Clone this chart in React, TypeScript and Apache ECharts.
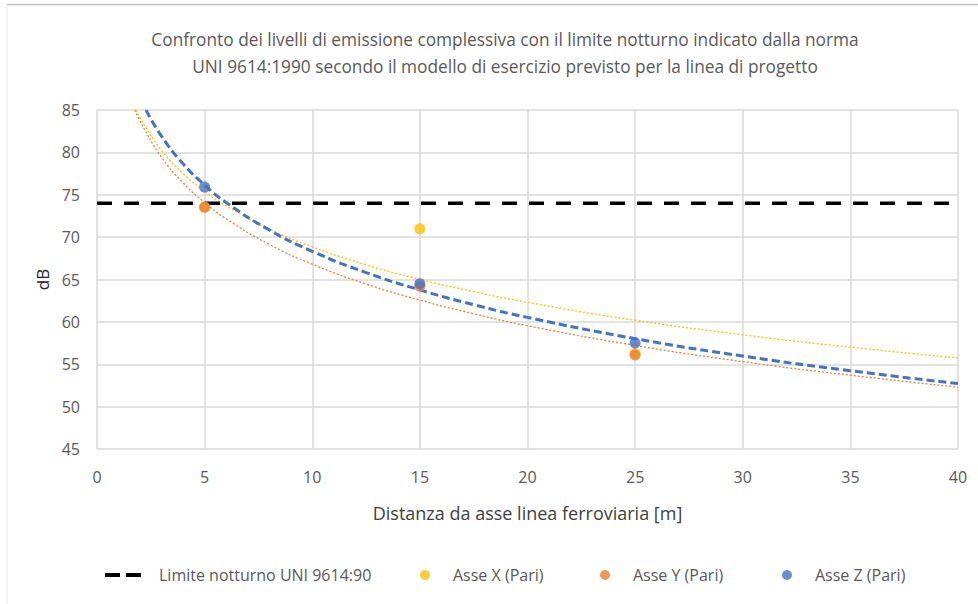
import React, { useEffect, useRef } from "react";
import * as echarts from "echarts";

const FONT = "'Open Sans', sans-serif";

// Measured points
const distances = [5, 15, 25];
const asseX = [73.5, 71.0, 56.3];
const asseY = [73.55, 64.2, 56.1];
const asseZ = [75.9, 64.5, 57.5];
const limiteNotturno = 74;

// Trendline samples
const trendXDist = [1.81, 2, 3, 4, 5, 6, 8, 10, 12.5, 15, 17.5, 20, 25, 30, 35, 40];
const trendXVal = [85.0, 84.06, 80.23, 77.51, 75.4, 73.68, 70.96, 68.85, 66.74, 65.02, 63.57, 62.3, 60.19, 58.47, 57.01, 55.75];
const trendYDist = [1.76, 2, 3, 4, 5, 6, 8, 10, 12.5, 15, 17.5, 20, 25, 30, 35, 40];
const trendYVal = [85.0, 83.66, 79.42, 76.41, 74.07, 72.16, 69.15, 66.81, 64.47, 62.57, 60.96, 59.55, 57.22, 55.31, 53.7, 52.3];
const trendZDist = [2.28, 3, 4, 5, 6, 8, 10, 12.5, 15, 17.5, 20, 25, 30, 35, 40];
const trendZVal = [84.98, 81.89, 78.65, 76.14, 74.08, 70.85, 68.33, 65.82, 63.77, 62.03, 60.53, 58.02, 55.97, 54.23, 52.72];

const xTicks = { min: 0, max: 40, interval: 5 };
const yTicks = { min: 45, max: 85, interval: 5 };

const names = {
  limite: "Limite notturno UNI 9614:90",
  x: "Asse X (Pari)",
  y: "Asse Y (Pari)",
  z: "Asse Z (Pari)",
};

const pairs = (xs: number[], ys: number[]) => xs.map((x, i) => [x, ys[i]]);

export default function App() {
  const ref = useRef<HTMLDivElement>(null);
  useEffect(() => {
    document.body.style.margin = "0";
    if (!ref.current) return;
    const chart = echarts.init(ref.current, null, { renderer: "svg" });
    const textColor = "#595959";
    const legendText = (pad: number) => ({ fontFamily: FONT, fontSize: 16, color: textColor, padding: [0, 0, 0, pad] });
    chart.setOption({
      animation: false,
      backgroundColor: "#ffffff",
      title: {
        text: "Confronto dei livelli di emissione complessiva con il limite notturno indicato dalla norma\nUNI 9614:1990 secondo il modello di esercizio previsto per la linea di progetto",
        left: 500,
        textAlign: "center",
        top: 21,
        textStyle: { fontFamily: FONT, fontSize: 17.3, fontWeight: "normal", color: textColor, lineHeight: 27 },
      },
      grid: { left: 97, right: 20, top: 110, bottom: 155 },
      xAxis: {
        type: "value",
        ...xTicks,
        name: "Distanza da asse linea ferroviaria [m]",
        nameLocation: "middle",
        nameGap: 55,
        nameTextStyle: { fontFamily: FONT, fontSize: 18, color: "#404040" },
        axisLine: { show: false },
        axisTick: { show: false },
        axisLabel: { fontFamily: FONT, fontSize: 16, color: textColor, margin: 20 },
        splitLine: { show: true, lineStyle: { color: "#d9d9d9", width: 1.5 } },
      },
      yAxis: {
        type: "value",
        ...yTicks,
        name: "dB",
        nameLocation: "middle",
        nameGap: 44,
        nameRotate: 90,
        nameTextStyle: { fontFamily: FONT, fontSize: 17, color: "#262626" },
        axisLine: { show: false },
        axisTick: { show: false },
        axisLabel: { fontFamily: FONT, fontSize: 16, color: textColor, margin: 17 },
        splitLine: { show: true, lineStyle: { color: "#d9d9d9", width: 1.5 } },
      },
      legend: [
        {
          data: [{ name: names.limite, icon: "path://M0,0 H15 V4 H0 Z M21,0 H36 V4 H21 Z" }],
          left: 100,
          top: 562,
          itemWidth: 36,
          itemHeight: 4,
          textStyle: legendText(13),
        },
        { data: [names.x], left: 415, top: 562, itemWidth: 10, itemHeight: 10, textStyle: legendText(18) },
        { data: [names.y], left: 595, top: 562, itemWidth: 10, itemHeight: 10, textStyle: legendText(18) },
        { data: [names.z], left: 777, top: 562, itemWidth: 10, itemHeight: 10, textStyle: legendText(18) },
      ],
      graphic: [
        { type: "line", shape: { x1: 7, y1: 4.5, x2: 978, y2: 4.5 }, style: { stroke: "#bfbfbf", lineWidth: 1.5 }, silent: true },
        { type: "line", shape: { x1: 7, y1: 4.5, x2: 7, y2: 604 }, style: { stroke: "#e6e6e6", lineWidth: 1 }, silent: true },
      ],
      series: [
        {
          name: "trendX",
          type: "line",
          data: pairs(trendXDist, trendXVal),
          smooth: true,
          symbol: "none",
          lineStyle: { color: "#FFC000", width: 1.3, type: [2, 2] },
          silent: true,
          z: 2,
        },
        {
          name: "trendY",
          type: "line",
          data: pairs(trendYDist, trendYVal),
          smooth: true,
          symbol: "none",
          lineStyle: { color: "#ED7D31", width: 1.3, type: [2, 2] },
          silent: true,
          z: 2,
        },
        {
          name: "trendZ",
          type: "line",
          data: pairs(trendZDist, trendZVal),
          smooth: true,
          symbol: "none",
          lineStyle: { color: "#4472C4", width: 3, type: [8, 4] },
          silent: true,
          z: 3,
        },
        {
          name: names.limite,
          type: "line",
          data: [[xTicks.min, limiteNotturno], [xTicks.max, limiteNotturno]],
          symbol: "none",
          color: "#000000",
          lineStyle: { color: "#000000", width: 3.5, type: [15, 12] },
          z: 4,
        },
        {
          name: names.x,
          type: "scatter",
          data: pairs(distances, asseX),
          symbolSize: 11,
          itemStyle: { color: "#FFC000" },
          z: 5,
        },
        {
          name: names.y,
          type: "scatter",
          data: pairs(distances, asseY),
          symbolSize: 11,
          itemStyle: { color: "#ED7D31" },
          z: 6,
        },
        {
          name: names.z,
          type: "scatter",
          data: pairs(distances, asseZ),
          symbolSize: 11,
          itemStyle: { color: "#4472C4" },
          z: 7,
        },
      ],
    });
    return () => chart.dispose();
  }, []);
  return <div ref={ref} style={{ width: 978, height: 604 }} />;
}
